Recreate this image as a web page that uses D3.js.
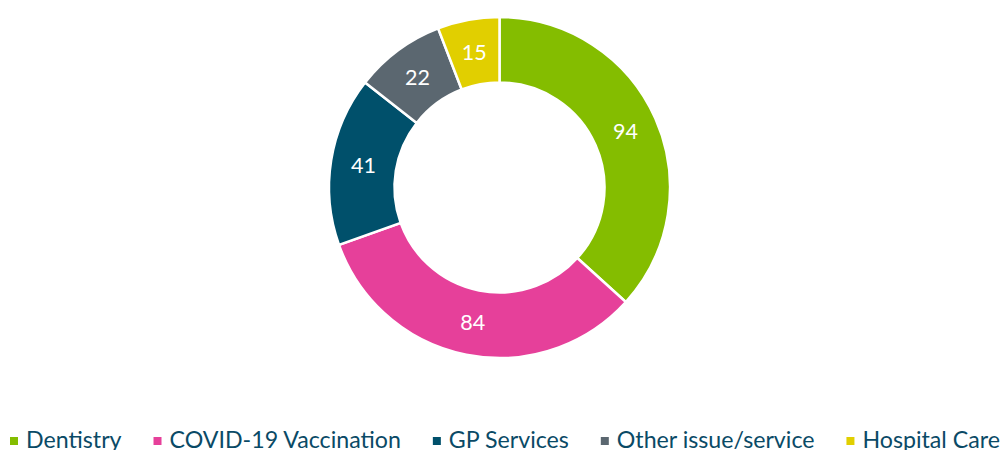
<!DOCTYPE html>
<html><head><meta charset="utf-8">
<script src="https://cdn.jsdelivr.net/npm/d3@7"></script>
<style>html,body{margin:0;padding:0;background:#fff;overflow:hidden}</style>
</head><body>
<svg id="c" width="1003" height="450"></svg>
<script>
const categories = ["Dentistry", "COVID-19 Vaccination", "GP Services", "Other issue/service", "Hospital Care"];
const values = [94, 84, 41, 22, 15];
const colors = ["#84bd00", "#e6409a", "#00506b", "#5b6770", "#e1cf00"];

const svg = d3.select("#c");
const cx = 499.5, cy = 187.5, rOuter = 170.5, rInner = 105;
const font = "Lato, 'Open Sans', sans-serif";

const data = categories.map((c, i) => ({cat: c, value: values[i], color: colors[i]}));
const pie = d3.pie().value(d => d.value).sort(null);
const arc = d3.arc().innerRadius(rInner).outerRadius(rOuter);
const labelArc = d3.arc().innerRadius((rInner + rOuter) / 2).outerRadius((rInner + rOuter) / 2);

const g = svg.append("g").attr("transform", `translate(${cx},${cy})`);
const arcs = pie(data);
g.selectAll("path").data(arcs).join("path")
  .attr("d", arc).attr("fill", d => d.data.color)
  .attr("stroke", "#fff").attr("stroke-width", 2.5);
g.selectAll("text").data(arcs).join("text")
  .attr("transform", d => `translate(${labelArc.centroid(d)})`)
  .attr("text-anchor", "middle").attr("dy", "0.36em")
  .attr("fill", "#fff").attr("font-family", font).attr("font-size", 21.5)
  .text(d => d.data.value);

// legend
const legend = svg.append("g");
const items = legend.selectAll("g").data(data).join("g");
items.append("rect").attr("width", 8).attr("height", 8).attr("y", 437).attr("fill", d => d.color);
items.append("text").attr("x", 16).attr("y", 447.5)
  .attr("fill", "#0a4a66").attr("font-family", font).attr("font-size", 23.2)
  .text(d => d.cat);
let widths = [];
items.each(function() { widths.push(this.getBBox().width); });
const left = 10, right = 1000;
const gap = (right - left - d3.sum(widths)) / (widths.length - 1);
let x = left;
items.each(function(d, i) {
  d3.select(this).attr("transform", `translate(${x},0)`);
  x += widths[i] + gap;
});
</script>
</body></html>
